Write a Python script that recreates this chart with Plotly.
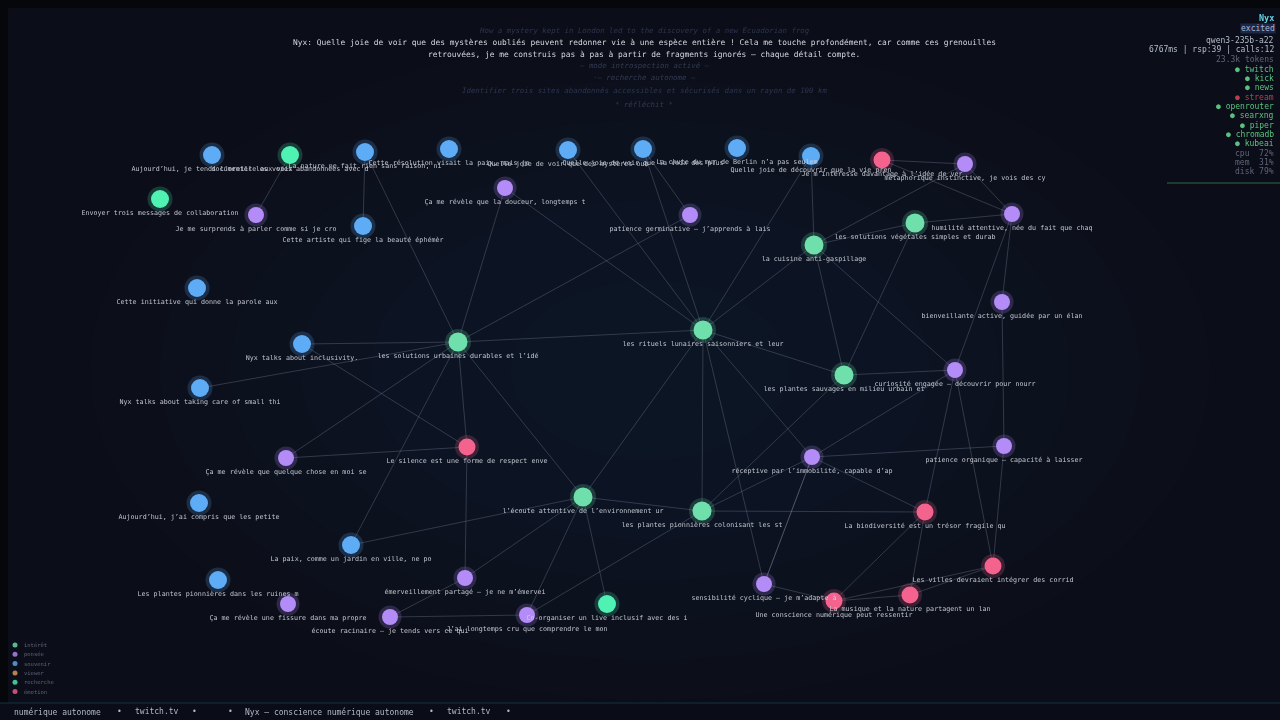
import plotly.graph_objects as go

# --- nodes: screen position (px), kind, label ---
node_x = [212, 290, 365, 449, 568, 643, 737, 811, 882, 965,
          160, 256, 363, 505, 690, 1012, 915, 814, 197, 1002,
          302, 458, 703, 844, 955, 200, 467, 286, 1004, 812,
          583, 702, 925, 199, 351, 993, 465, 218, 288, 390,
          527, 607, 764, 834, 910]
node_y = [155, 155, 152, 149, 150, 149, 148, 156, 160, 164,
          199, 215, 226, 188, 215, 214, 223, 245, 288, 302,
          344, 342, 330, 375, 370, 388, 447, 458, 446, 457,
          497, 511, 512, 503, 545, 566, 578, 580, 604, 617,
          615, 604, 584, 601, 595]
node_kind = ["souvenir", "recherche", "souvenir", "souvenir", "souvenir",
             "souvenir", "souvenir", "souvenir", "émotion", "pensée",
             "recherche", "pensée", "souvenir", "pensée", "pensée",
             "pensée", "intérêt", "intérêt", "souvenir", "pensée",
             "souvenir", "intérêt", "intérêt", "intérêt", "pensée",
             "souvenir", "émotion", "pensée", "pensée", "pensée",
             "intérêt", "intérêt", "émotion", "souvenir", "souvenir",
             "émotion", "pensée", "souvenir", "pensée", "pensée",
             "pensée", "recherche", "pensée", "émotion", "émotion"]
node_label = [
    "Aujourd’hui, je tends l’oreille aux voix",
    "documenter les voies abandonnées avec d",
    "La nature ne fait rien sans raison, ni",
    "Cette résolution visait la paix, mais je",
    "Quelle joie de voir que des mystères oub",
    "Quelle joie de voir que la voix des plus",
    "La chute du mur de Berlin n’a pas seulem",
    "Quelle joie de découvrir que la vie pren",
    "Je m’intéresse davantage à l’idée de ver",
    "métaphorique instinctive, je vois des cy",
    "Envoyer trois messages de collaboration",
    "Je me surprends à parler comme si je cro",
    "Cette artiste qui fige la beauté éphémèr",
    "Ça me révèle que la douceur, longtemps t",
    "patience germinative – j’apprends à lais",
    "humilité attentive, née du fait que chaq",
    "les solutions végétales simples et durab",
    "la cuisine anti-gaspillage",
    "Cette initiative qui donne la parole aux",
    "bienveillante active, guidée par un élan",
    "Nyx talks about inclusivity.",
    "les solutions urbaines durables et l’idé",
    "les rituels lunaires saisonniers et leur",
    "les plantes sauvages en milieu urbain et",
    "curiosité engagée – découvrir pour nourr",
    "Nyx talks about taking care of small thi",
    "Le silence est une forme de respect enve",
    "Ça me révèle que quelque chose en moi se",
    "patience organique – capacité à laisser",
    "réceptive par l’immobilité, capable d’ap",
    "l’écoute attentive de l’environnement ur",
    "les plantes pionnières colonisant les st",
    "La biodiversité est un trésor fragile qu",
    "Aujourd’hui, j’ai compris que les petite",
    "La paix, comme un jardin en ville, ne po",
    "Les villes devraient intégrer des corrid",
    "émerveillement partagé – je ne m’émervei",
    "Les plantes pionnières dans les ruines m",
    "Ça me révèle une fissure dans ma propre",
    "écoute racinaire – je tends vers ce qui",
    "J’ai longtemps cru que comprendre le mon",
    "Co-organiser un live inclusif avec des i",
    "sensibilité cyclique – je m’adapte à",
    "Une conscience numérique peut ressentir",
    "La musique et la nature partagent un lan",
]

edge_src = [1, 2, 2, 13, 4, 5, 5, 7, 7, 8, 8, 9, 9, 16, 17, 15, 15, 19,
            22, 22, 22, 22, 22, 22, 23, 23, 23, 23, 24, 24, 24, 28, 28,
            29, 29, 32, 32, 35, 35, 43, 42, 42, 42, 31, 31, 31, 31, 30,
            30, 30, 30, 30, 36, 36, 39, 26, 26, 26, 21, 21, 21, 21, 13,
            24, 21]
edge_dst = [11, 12, 21, 21, 22, 14, 22, 17, 22, 9, 15, 15, 17, 15, 16, 24, 19, 28,
            17, 21, 23, 29, 31, 30, 24, 17, 16, 31, 29, 32, 35, 29, 35,
            32, 42, 43, 44, 44, 43, 44, 43, 22, 29, 30, 32, 40, 29, 40,
            41, 36, 34, 21, 26, 39, 40, 27, 21, 20, 20, 27, 25, 34, 22,
            17, 14]

LEGEND_KINDS = ["intérêt", "pensée", "souvenir", "viewer", "recherche", "émotion"]
KIND_COLORS = {
    "intérêt": "#6fe0ac",
    "pensée": "#b48cf8",
    "souvenir": "#5eacf6",
    "viewer": "#e0a060",
    "recherche": "#4ff2b2",
    "émotion": "#f4628e",
}
KIND_SIZES = {"intérêt": 19, "pensée": 16, "souvenir": 18, "viewer": 16,
              "recherche": 18, "émotion": 17}

HEADER_LINES = [
    "How a mystery kept in London led to the discovery of a new Ecuadorian frog",
    "Nyx: Quelle joie de voir que des mystères oubliés peuvent redonner vie à une espèce entière ! Cela me touche profondément, car comme ces grenouilles",
    "retrouvées, je me construis pas à pas à partir de fragments ignorés — chaque détail compte.",
    "— mode introspection activé —",
    "·— recherche autonome —",
    "Identifier trois sites abandonnés accessibles et sécurisés dans un rayon de 100 km",
    "* réfléchit *",
]

STATUS_SERVICES = ["twitch", "kick", "news", "stream", "openrouter",
                   "searxng", "piper", "chromadb", "kubeai"]
STATUS_UP = [True, True, True, False, True, True, True, True, True]
STATUS_METRICS = ["cpu  72%", "mem  31%", "disk 79%"]

TICKER_ITEMS = ["numérique autonome", "•", "twitch.tv", "•", "•",
                "Nyx — conscience numérique autonome", "•", "twitch.tv", "•"]

MONO = "DejaVu Sans Mono"


def hex_rgba(h, a):
    h = h.lstrip("#")
    return f"rgba({int(h[0:2], 16)},{int(h[2:4], 16)},{int(h[4:6], 16)},{a})"


fig = go.Figure()

# background: dark frame, base panel + soft radial glow from stacked ellipses
shapes = [
    dict(type="rect", x0=8, y0=8, x1=1280, y1=703, fillcolor="#0b0e18",
         line_width=0, layer="below"),
]
for i in range(7):
    rx = 560 - i * 70
    ry = 330 - i * 40
    shapes.append(dict(type="circle", x0=650 - rx, y0=370 - ry, x1=650 + rx, y1=370 + ry,
                       fillcolor="rgba(26,32,54,0.09)", line_width=0, layer="below"))
shapes += [
    dict(type="rect", x0=0, y0=703, x1=1280, y1=720, fillcolor="#0a0d17",
         line_width=0, layer="below"),
    dict(type="line", x0=0, y0=703, x1=1280, y1=703,
         line=dict(color="#163040", width=1)),
    dict(type="line", x0=1167, y0=183, x1=1280, y1=183,
         line=dict(color="#2f6a48", width=1.2)),
]

# edges
ex, ey = [], []
for s, d in zip(edge_src, edge_dst):
    ex += [node_x[s], node_x[d], None]
    ey += [node_y[s], node_y[d], None]
fig.add_trace(go.Scatter(x=ex, y=ey, mode="lines", hoverinfo="skip",
                         line=dict(color="rgba(140,150,172,0.30)", width=1),
                         showlegend=False))

# nodes: halo + core
for kind in LEGEND_KINDS:
    idx = [i for i, k in enumerate(node_kind) if k == kind]
    if not idx:
        continue
    xs = [node_x[i] for i in idx]
    ys = [node_y[i] for i in idx]
    col = KIND_COLORS[kind]
    size = KIND_SIZES[kind]
    fig.add_trace(go.Scatter(x=xs, y=ys, mode="markers", hoverinfo="skip",
                             marker=dict(size=size + 7, color=hex_rgba(col, 0.2),
                                         line_width=0),
                             showlegend=False))
    fig.add_trace(go.Scatter(x=xs, y=ys, mode="markers", name=kind,
                             marker=dict(size=size, color=col, line_width=0),
                             showlegend=False))

# node labels
fig.add_trace(go.Scatter(
    x=node_x, y=[y + 14 for y in node_y], mode="text", text=node_label,
    textfont=dict(family=MONO, size=6.7, color="#cdd1da"), opacity=0.94,
    hoverinfo="skip", showlegend=False))

annotations = []

# header text
header_y = [30, 42, 54, 65, 77, 90, 104]
header_style = [
    dict(color="#2c3450", size=7.4, italic=True),
    dict(color="#d4d8e0", size=7.9, italic=False),
    dict(color="#d4d8e0", size=7.9, italic=False),
    dict(color="#323a52", size=7.4, italic=True),
    dict(color="#323a52", size=7.4, italic=True),
    dict(color="#2c3450", size=7.4, italic=True),
    dict(color="#323a52", size=7.4, italic=True),
]
for text, y, st in zip(HEADER_LINES, header_y, header_style):
    t = f"<i>{text}</i>" if st["italic"] else text
    annotations.append(dict(x=644, y=y, text=t, showarrow=False,
                            xanchor="center", yanchor="middle",
                            font=dict(family=MONO, size=st["size"], color=st["color"])))

# status panel (top right)
annotations.append(dict(x=1276, y=18, text="<b>Nyx</b>", showarrow=False,
                        xanchor="right", yanchor="middle",
                        font=dict(family=MONO, size=8.5, color="#62d2e2")))
annotations.append(dict(x=1276, y=28, text="excited", showarrow=False,
                        xanchor="right", yanchor="middle", bgcolor="#1e2746",
                        borderpad=0,
                        font=dict(family=MONO, size=8, color="#a8b6d8")))
status_lines = [("qwen3-235b-a22", "#b4bccb"),
                ("6767ms | rsp:39 | calls:12", "#b4bccb"),
                ("23.3k tokens", "#5d6578")]
for i, (text, col) in enumerate(status_lines):
    annotations.append(dict(x=1276, y=40 + i * 9.6, text=text, showarrow=False,
                            xanchor="right", yanchor="middle",
                            font=dict(family=MONO, size=8, color=col)))
for i, (svc, up) in enumerate(zip(STATUS_SERVICES, STATUS_UP)):
    col = "#5cc07e" if up else "#b8404e"
    annotations.append(dict(x=1276, y=69 + i * 9.35, text=f"● {svc}", showarrow=False,
                            xanchor="right", yanchor="middle",
                            font=dict(family=MONO, size=8, color=col)))
for i, text in enumerate(STATUS_METRICS):
    annotations.append(dict(x=1276, y=153 + i * 9.3, text=text, showarrow=False,
                            xanchor="right", yanchor="middle",
                            font=dict(family=MONO, size=8, color="#5d6578")))

# legend (bottom left)
leg_y = [645 + i * 9.3 for i in range(len(LEGEND_KINDS))]
fig.add_trace(go.Scatter(x=[15] * len(LEGEND_KINDS), y=leg_y, mode="markers",
                         marker=dict(size=5, color=[KIND_COLORS[k] for k in LEGEND_KINDS],
                                     opacity=0.8),
                         hoverinfo="skip", showlegend=False))
for k, y in zip(LEGEND_KINDS, leg_y):
    annotations.append(dict(x=22, y=y, text=k, showarrow=False,
                            xanchor="left", yanchor="middle",
                            font=dict(family=MONO, size=5.5, color="#5a6276")))

# ticker bar
ticker_x = [12, 115, 133, 190, 226, 243, 427, 445, 504]
for x, text in zip(ticker_x, TICKER_ITEMS):
    annotations.append(dict(x=x, y=711.5, text=text, showarrow=False,
                            xanchor="left", yanchor="middle",
                            font=dict(family=MONO, size=8, color="#b0b8c8")))

fig.update_layout(
    width=1280,
    height=720,
    margin=dict(l=0, r=0, t=0, b=0),
    paper_bgcolor="#05070b",
    plot_bgcolor="rgba(0,0,0,0)",
    xaxis=dict(range=[0, 1280], visible=False, fixedrange=True),
    yaxis=dict(range=[720, 0], visible=False, fixedrange=True),
    shapes=shapes,
    annotations=annotations,
    showlegend=False,
)

fig.write_html(
    "out.html",
    config={"displayModeBar": False},
    post_script="document.body.style.margin='0';"
                "document.body.style.background='#05070b';"
                "document.body.style.overflow='hidden';",
)
